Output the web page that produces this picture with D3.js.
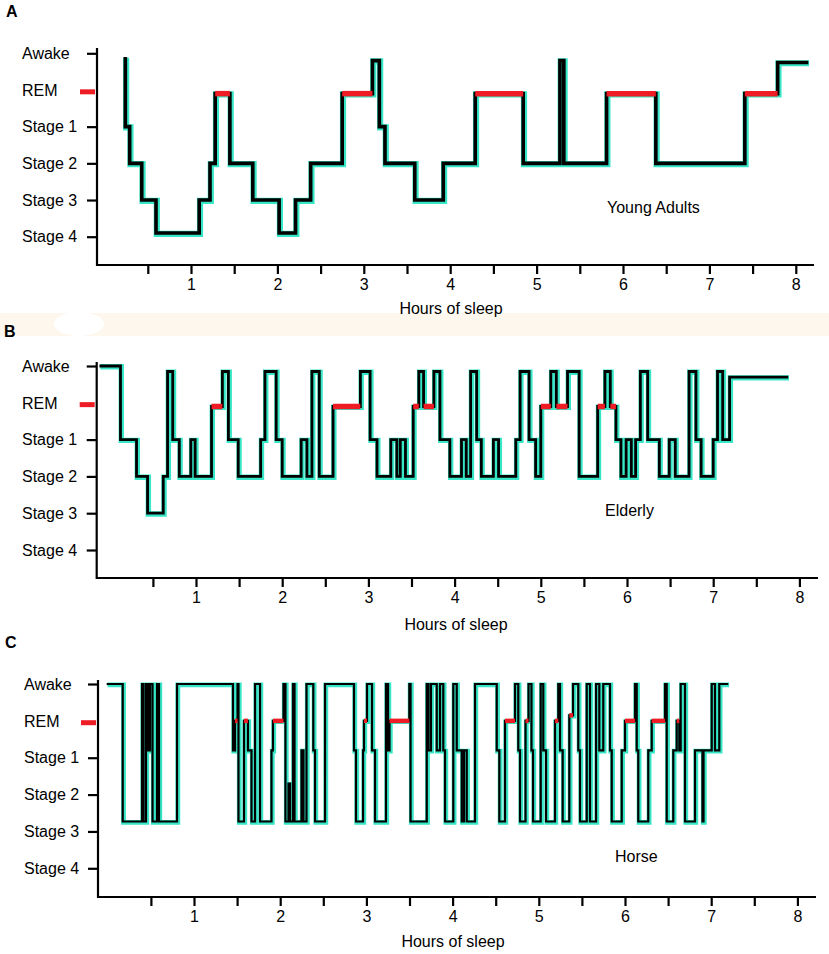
<!DOCTYPE html>
<html>
<head>
<meta charset="utf-8">
<script src="https://cdn.jsdelivr.net/npm/d3@7"></script>
<style>
body{margin:0;background:#fff}
svg{display:block;font-family:Arial,"Liberation Sans",sans-serif}
</style>
</head>
<body>
<svg id="chart"></svg>
<script>

// stage index: 0 Awake, 1 REM, 2 Stage 1, 3 Stage 2, 4 Stage 3, 5 Stage 4
var stageLabels = ["Awake","REM","Stage 1","Stage 2","Stage 3","Stage 4"]
var hourTicks = [0.5,1,1.5,2,2.5,3,3.5,4,4.5,5,5.5,6,6.5,7,7.5,8]
var hourLabels = [1,2,3,4,5,6,7,8]

// A - young adults (hour the stage starts, stage level)
var youngHours = [0.24,0.24,0.29,0.43,0.595,1.095,1.22,1.28,1.45,1.715,2.02,2.21,2.385,2.75,3.10,3.18,3.245,3.59,3.92,4.29,4.845,5.27,5.315,5.81,6.38,7.41,7.79,8.145]
var youngStage = [0.1,2,3,4,4.9,4,3,1.1,3,4,4.9,4,3,1.1,0.2,2,3,4,3,1.1,3,0.2,3,1.1,3,1.1,0.25,0.25]

// B - elderly
var elderHours = [-0.12,0.124,0.31,0.438,0.62,0.67,0.73,0.806,0.94,0.99,
  1.18,1.306,1.376,1.49,1.75,1.80,1.93,2.0,2.22,2.287,
  2.345,2.43,2.59,2.907,3.02,3.10,3.26,3.33,3.37,3.43,
  3.52,3.585,3.64,3.76,3.83,3.945,4.08,4.135,4.186,4.256,
  4.31,4.45,4.51,4.71,4.76,4.864,4.94,5.0,5.116,5.18,
  5.31,5.445,5.66,5.744,5.806,5.872,5.93,5.99,6.05,6.1,
  6.155,6.24,6.375,6.49,6.56,6.72,6.80,6.86,7.0,7.05,
  7.11,7.19,7.87]
var elderStage = [0,2,3,4,3,0.15,2,3,2,3,
  1.1,0.15,2,3,2,0.15,2,3,2,3,
  0.15,3,1.1,0.15,2,3,2,3,2,3,
  1.1,0.15,1.1,0.15,2,3,2,3,0.15,2,
  3,2,3,2,0.15,2,3,1.1,0.15,1.1,
  0.15,3,1.1,0.15,1.1,2,3,2,3,2,
  0.15,2,3,2,3,0.15,2,3,2,0.15,
  2,0.3,0.3]

// C - horse
var horseHours = [-0.013,0.173,0.397,0.414,0.443,0.466,0.490,0.519,0.571,0.594,
  0.803,1.452,1.476,1.505,1.516,1.580,1.626,1.667,1.708,1.766,
  1.899,1.916,2.038,2.061,2.096,2.114,2.148,2.166,2.247,2.270,
  2.305,2.384,2.404,2.520,2.856,2.879,2.961,2.972,3.007,3.065,
  3.100,3.227,3.251,3.268,3.498,3.512,3.700,3.720,3.749,3.816,
  3.854,3.892,3.912,4.008,4.048,4.106,4.132,4.164,4.260,4.512,
  4.542,4.608,4.724,4.762,4.782,4.846,4.881,4.915,4.933,5.022,
  5.052,5.084,5.188,5.226,5.246,5.277,5.354,5.397,5.458,5.478,
  5.556,5.594,5.664,5.702,5.748,5.826,5.846,5.962,6.000,6.116,
  6.136,6.154,6.270,6.310,6.464,6.484,6.560,6.600,6.630,6.646,
  6.696,6.812,6.899,6.911,7.006,7.044,7.094,7.198]
var horseStage = [0,3.73,0,3.73,0,1.8,0,3.73,0,3.73,
  0,1.8,1,0,3.73,1,1.8,3.73,0,3.73,
  1.8,1,0,3.73,2.7,3.73,0,3.73,1.8,3.73,
  0,1.8,3.73,0,1.8,3.73,1.8,1,0,1.8,
  3.73,0,1.8,1,0,3.73,0,1.8,0,1.8,
  0,1.8,3.73,0,1.8,3.73,1.8,3.73,0,1.8,
  3.73,1,0,1.8,3.73,1,0,1.8,3.73,0,
  1.8,3.73,1,0,1.8,3.73,0.85,0,1.8,3.73,
  0,3.73,0,1.8,0,1.8,3.73,1.8,1,0,
  1.8,3.73,1.8,1,0,3.73,1.8,1,1.8,0,
  3.73,1.8,3.73,1.8,0,1.8,0,0]

var screen = {width:829, height:954}

var panels = [
  {letter:"A", letterX:6, letterY:17, name:"Young Adults", nameX:607, nameY:213,
   hours:youngHours, stage:youngStage,
   x0:104.6, hr:86.4, yTop:53.3, yBot:236.7, axisX:97, axisTop:48, axisBot:265, xEnd:814,
   titleX:451, titleY:314, labelX:22, lw:3.6, rw:5.5},
  {letter:"B", letterX:4, letterY:337, name:"Elderly", nameX:605, nameY:516,
   hours:elderHours, stage:elderStage,
   x0:109.8, hr:86.2, yTop:366, yBot:550, axisX:96.7, axisTop:362, axisBot:578, xEnd:818,
   titleX:456, titleY:630, labelX:22, lw:2.8, rw:5.5},
  {letter:"C", letterX:5, letterY:648, name:"Horse", nameX:615, nameY:862,
   hours:horseHours, stage:horseStage,
   x0:107.8, hr:86.2, yTop:684, yBot:868.3, axisX:98, axisTop:680, axisBot:897, xEnd:816,
   titleX:453, titleY:947, labelX:24, lw:2.2, rw:4.5}
]

var svg = d3.select("#chart")
  .attr("width", screen.width)
  .attr("height", screen.height)

// faint band between A and B
svg.append("rect")
  .attr("x", 0).attr("y", 313)
  .attr("width", screen.width).attr("height", 23)
  .attr("fill", "#fdf7ee")
svg.append("ellipse")
  .attr("cx", 79).attr("cy", 324).attr("rx", 25).attr("ry", 12)
  .attr("fill", "#fff")

var drawPanel = function(p)
{
  var g = svg.append("g")

  var xScale = d3.scaleLinear()
    .domain([0, 8])
    .range([p.x0, p.x0 + 8 * p.hr])
  var yScale = d3.scaleLinear()
    .domain([0, 5])
    .range([p.yTop, p.yBot])

  // y axis ticks (REM tick is red, drawn separately)
  var yAxis = d3.axisLeft(yScale)
    .tickValues([0, 2, 3, 4, 5])
    .tickSize(10)
    .tickSizeOuter(0)
    .tickFormat("")
  var ya = g.append("g")
    .attr("transform", "translate(" + p.axisX + ",0)")
    .call(yAxis)
  ya.select(".domain").remove()
  ya.selectAll("line").attr("stroke", "#000").attr("stroke-width", 2.2)

  g.append("line")
    .attr("x1", p.axisX - 17).attr("x2", p.axisX - 2)
    .attr("y1", yScale(1.05)).attr("y2", yScale(1.05))
    .attr("stroke", "#ee1c24")
    .attr("stroke-width", 5)

  g.selectAll(".stagelabel")
    .data(stageLabels)
    .enter()
    .append("text")
    .attr("x", p.labelX)
    .attr("y", function(d, i) { return yScale(i) })
    .attr("dy", "0.36em")
    .attr("font-size", 16)
    .text(function(d) { return d })

  // x axis
  var xAxis = d3.axisBottom(xScale)
    .tickValues(hourTicks)
    .tickSize(9)
    .tickSizeOuter(0)
    .tickPadding(5)
    .tickFormat(function(d) { return hourLabels.indexOf(d) >= 0 ? d : "" })
  var xa = g.append("g")
    .attr("transform", "translate(0," + p.axisBot + ")")
    .call(xAxis)
  xa.select(".domain").remove()
  xa.selectAll("line").attr("stroke", "#000").attr("stroke-width", 2.2)
  xa.selectAll("text").attr("font-size", 16).attr("fill", "#000")
    .attr("font-family", "Arial, 'Liberation Sans', sans-serif")

  g.append("path")
    .attr("d", "M" + p.axisX + "," + p.axisTop + "V" + p.axisBot + "H" + p.xEnd)
    .attr("fill", "none")
    .attr("stroke", "#000")
    .attr("stroke-width", 2.2)

  // hypnogram
  var pts = p.hours.map(function(h, i) { return [h, p.stage[i]] })
  var line = d3.line()
    .x(function(d) { return xScale(d[0]) })
    .y(function(d) { return yScale(d[1]) })
    .curve(d3.curveStepAfter)

  g.append("path")
    .attr("d", line(pts))
    .attr("transform", "translate(0.8,0.8)")
    .attr("fill", "none")
    .attr("stroke", "#36e6c6")
    .attr("stroke-width", p.lw + 2.6)
    .attr("stroke-linejoin", "miter")

  g.append("path")
    .attr("d", line(pts))
    .attr("fill", "none")
    .attr("stroke", "#000")
    .attr("stroke-width", p.lw)
    .attr("stroke-linejoin", "miter")

  // REM periods in red
  var rem = pts.slice(0, -1).map(function(d, i) { return [d[0], pts[i + 1][0], d[1]] })
    .filter(function(d) { return d[2] > 0.8 && d[2] < 1.2 })
  g.selectAll(".rem")
    .data(rem)
    .enter()
    .append("line")
    .attr("x1", function(d) { return xScale(d[0]) })
    .attr("x2", function(d) { return xScale(d[1]) })
    .attr("y1", function(d) { return yScale(d[2]) })
    .attr("y2", function(d) { return yScale(d[2]) })
    .attr("stroke", "#ee1c24")
    .attr("stroke-width", p.rw)

  g.append("text")
    .attr("x", p.letterX).attr("y", p.letterY)
    .attr("font-size", 16).attr("font-weight", "bold")
    .text(p.letter)

  g.append("text")
    .attr("x", p.nameX).attr("y", p.nameY)
    .attr("font-size", 16)
    .text(p.name)

  g.append("text")
    .attr("x", p.titleX).attr("y", p.titleY)
    .attr("text-anchor", "middle")
    .attr("font-size", 16)
    .text("Hours of sleep")
}

panels.forEach(drawPanel)

</script>
</body>
</html>
